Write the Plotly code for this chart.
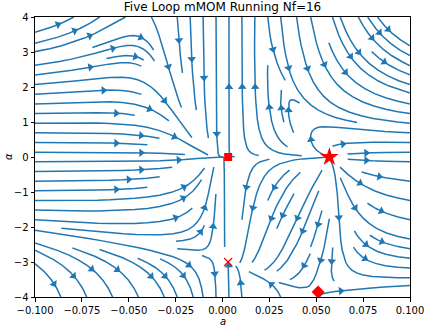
import numpy as np
import plotly.graph_objects as go

# axes
a_range = [-0.1, 0.1]
alpha_range = [-4.0, 4.0]
x_ticks = [-0.1, -0.075, -0.05, -0.025, 0.0, 0.025, 0.05, 0.075, 0.1]
y_ticks = [-4, -3, -2, -1, 0, 1, 2, 3, 4]

# fixed points (a, alpha)
square_pt = [0.003, 0.0]
star_pt = [0.057, 0.0]
cross_pt = [0.003, -3.0]
diamond_pt = [0.051, -3.86]

# zero of the coupling flow da/dt, as a function of alpha
a2_alpha = [-4.0, -3.9, -3.0, -2.0, -1.0, 0.0, 0.5, 1.0, 2.0, 3.0, 4.0]
a2_value = [0.050, 0.051, 0.060, 0.061, 0.060, 0.057, 0.048, 0.040, 0.027, 0.018, 0.012]
# lower zero of the gauge flow dalpha/dt, as a function of a
s_a = [-0.1, 0.003, 0.051, 0.1]
s_value = [-1.0, -3.0, -3.9, -3.4]
# flow coefficients
coef_a = 1300.0
coef_alpha = 1.0
coef_h = [264.0, 0.025]
coef_low = 72.0

BLUE = '#1f77b4'


class _Stop(Exception):
    pass


def interp(arr, xi, yi):
    ny, nx = arr.shape
    x, y = int(xi), int(yi)
    xn, yn = min(x + 1, nx - 1), min(y + 1, ny - 1)
    xt, yt = xi - x, yi - y
    r0 = arr[y, x] * (1 - xt) + arr[y, xn] * xt
    r1 = arr[yn, x] * (1 - xt) + arr[yn, xn] * xt
    return r0 * (1 - yt) + r1 * yt


def stream_paths(xv, yv, u, v, density=1.0, minlength=0.1, maxlength=4.0):
    # small port of matplotlib's streamplot placement
    ny, nx = u.shape
    m = int(30 * density)
    mask = np.zeros((m, m), dtype=bool)
    gx, gy = (m - 1) / (nx - 1), (m - 1) / (ny - 1)
    ug = u / (xv[1] - xv[0])
    vg = v / (yv[1] - yv[0])
    speed = np.hypot(ug / (nx - 1), vg / (ny - 1))
    cells, cur = [], [None]

    def inside(xi, yi):
        return 0 <= xi <= nx - 1 and 0 <= yi <= ny - 1

    def mark(xi, yi):
        cell = (int(round(yi * gy)), int(round(xi * gx)))
        if cell != cur[0]:
            if mask[cell]:
                raise _Stop
            mask[cell] = True
            cells.append(cell)
            cur[0] = cell

    def f(xi, yi, sgn):
        if not inside(xi, yi):
            raise IndexError
        sp = interp(speed, xi, yi)
        if sp == 0:
            raise _Stop
        return sgn * interp(ug, xi, yi) / sp, sgn * interp(vg, xi, yi) / sp

    def rk12(x0, y0, sgn):
        maxerror = 0.003
        maxds = min(1.0 / m, 0.1)
        ds, stotal = maxds, 0.0
        xi, yi = x0, y0
        pts = []
        while True:
            pts.append((xi, yi))
            try:
                k1x, k1y = f(xi, yi, sgn)
                k2x, k2y = f(xi + ds * k1x, yi + ds * k1y, sgn)
            except IndexError:
                cx, cy = f(xi, yi, sgn)
                dsx = np.inf if cx == 0 else (xi / -cx if cx < 0 else (nx - 1 - xi) / cx)
                dsy = np.inf if cy == 0 else (yi / -cy if cy < 0 else (ny - 1 - yi) / cy)
                d = min(dsx, dsy)
                pts.append((xi + cx * d, yi + cy * d))
                stotal += d
                break
            except _Stop:
                break
            dx1, dy1 = ds * k1x, ds * k1y
            dx2, dy2 = ds * 0.5 * (k1x + k2x), ds * 0.5 * (k1y + k2y)
            err = np.hypot((dx2 - dx1) / (nx - 1), (dy2 - dy1) / (ny - 1))
            if err < maxerror:
                xi += dx2
                yi += dy2
                if not inside(xi, yi):
                    break
                try:
                    mark(xi, yi)
                except _Stop:
                    break
                if stotal + ds > maxlength:
                    break
                stotal += ds
            ds = maxds if err == 0 else min(maxds, 0.85 * ds * (maxerror / err) ** 0.5)
        return stotal, pts

    def starts():
        xf, yf, xl, yl = 0, 1, m - 1, m - 1
        x = y = 0
        d = 'right'
        for _ in range(m * m):
            yield x, y
            if d == 'right':
                x += 1
                if x >= xl:
                    xl -= 1
                    d = 'up'
            elif d == 'up':
                y += 1
                if y >= yl:
                    yl -= 1
                    d = 'left'
            elif d == 'left':
                x -= 1
                if x <= xf:
                    xf += 1
                    d = 'down'
            else:
                y -= 1
                if y <= yf:
                    yf += 1
                    d = 'right'

    out = []
    for xm, ym in starts():
        if mask[ym, xm]:
            continue
        x0, y0 = xm / gx, ym / gy
        cells.clear()
        cur[0] = None
        mark(x0, y0)
        s1, back = rk12(x0, y0, -1)
        cur[0] = (ym, xm)
        s2, fwd = rk12(x0, y0, 1)
        if s1 + s2 > minlength:
            pts = np.array(back[::-1] + fwd[1:])
            tx = xv[0] + pts[:, 0] * (xv[1] - xv[0])
            ty = yv[0] + pts[:, 1] * (yv[1] - yv[0])
            out.append((tx, ty))
        else:
            for c in cells:
                mask[c] = False
    return out


a_grid = np.linspace(a_range[0], a_range[1], 100)
alpha_grid = np.linspace(alpha_range[0], alpha_range[1], 100)
A, AL = np.meshgrid(a_grid, alpha_grid)
a2 = np.interp(AL, a2_alpha, a2_value)
s_low = np.interp(A, s_a, s_value)
U = coef_a * A ** 2 * (A - square_pt[0]) * (A - a2)
ah = AL * coef_h[0] * A * (A + coef_h[1])
boost = 1 + coef_low * np.minimum(A, 0) ** 2 * np.minimum(AL, 0) ** 2
V = coef_alpha * A * AL * (AL - s_low) * (1 - ah) / (1 + 0.5 * np.abs(ah)) * boost

paths = stream_paths(a_grid, alpha_grid, U, V)

# plot area size in pixels, used to orient arrow heads
PW, PH = 375.0, 280.0
lx, ly = [], []
hx, hy, hang = [], [], []
for tx, ty in paths:
    lx += list(tx) + [None]
    ly += list(ty) + [None]
    s = np.cumsum(np.hypot(np.diff(tx), np.diff(ty)))
    n = int(np.searchsorted(s, s[-1] / 2.0))
    n = min(n, len(tx) - 2)
    ddx = (tx[n + 1] - tx[n]) * PW / 0.2
    ddy = (ty[n + 1] - ty[n]) * PH / 8.0
    hx.append((tx[n] + tx[n + 1]) / 2)
    hy.append((ty[n] + ty[n + 1]) / 2)
    hang.append(90 - np.degrees(np.arctan2(ddy, ddx)))

fig = go.Figure()
fig.add_trace(go.Scatter(x=lx, y=ly, mode='lines', line=dict(color=BLUE, width=1.5),
                         hoverinfo='skip', showlegend=False))
fig.add_trace(go.Scatter(x=hx, y=hy, mode='markers',
                         marker=dict(symbol='triangle-up', size=7.5, color=BLUE, angle=hang, line=dict(width=0)),
                         showlegend=False))
fig.add_trace(go.Scatter(x=[square_pt[0]], y=[square_pt[1]], mode='markers',
                         marker=dict(symbol='square', size=8, color='red'), showlegend=False))
fig.add_trace(go.Scatter(x=[star_pt[0]], y=[star_pt[1]], mode='markers',
                         marker=dict(symbol='star', size=14, color='red'), showlegend=False))
fig.add_trace(go.Scatter(x=[cross_pt[0]], y=[cross_pt[1]], mode='markers',
                         marker=dict(symbol='x-thin', size=8, line=dict(color='red', width=1.2)), showlegend=False))
fig.add_trace(go.Scatter(x=[diamond_pt[0]], y=[diamond_pt[1]], mode='markers',
                         marker=dict(symbol='diamond', size=10, color='red'), showlegend=False))

axis_style = dict(showline=True, mirror=True, linecolor='black', linewidth=1, ticks='outside',
                  ticklen=3.5, tickwidth=0.8, tickcolor='black', showgrid=False, zeroline=False,
                  automargin=False, tickfont=dict(family='DejaVu Sans', size=10, color='black'))
fig.update_xaxes(range=a_range, tickvals=x_ticks, tickformat='.3f', **axis_style)
fig.update_yaxes(range=alpha_range, tickvals=y_ticks, **axis_style)

label_font = dict(family='DejaVu Sans', size=10, color='black')
fig.add_annotation(text='<i>a</i>', xref='paper', yref='paper', x=0.5, y=0, yshift=-24,
                   xanchor='center', yanchor='middle', showarrow=False, font=label_font)
fig.add_annotation(text='<i>α</i>', xref='paper', yref='paper', x=0, y=0.5, xshift=-27,
                   xanchor='center', yanchor='middle', textangle=-90, showarrow=False, font=label_font)

fig.update_layout(width=425, height=327, margin=dict(l=35, r=15, t=17, b=30, autoexpand=False),
                  paper_bgcolor='white', plot_bgcolor='white', hovermode=False,
                  title=dict(text='Five Loop mMOM Running Nf=16', x=0.5, xanchor='center', xref='paper',
                             y=1 - 7 / 327, yanchor='middle',
                             font=dict(family='DejaVu Sans', size=12, color='black')))
# no mode bar, and drop the page's default 8px body margin so the figure sits at the window corner
fig.write_html("out.html", config={'displayModeBar': False},
               post_script="document.body.style.margin = '0px';")
